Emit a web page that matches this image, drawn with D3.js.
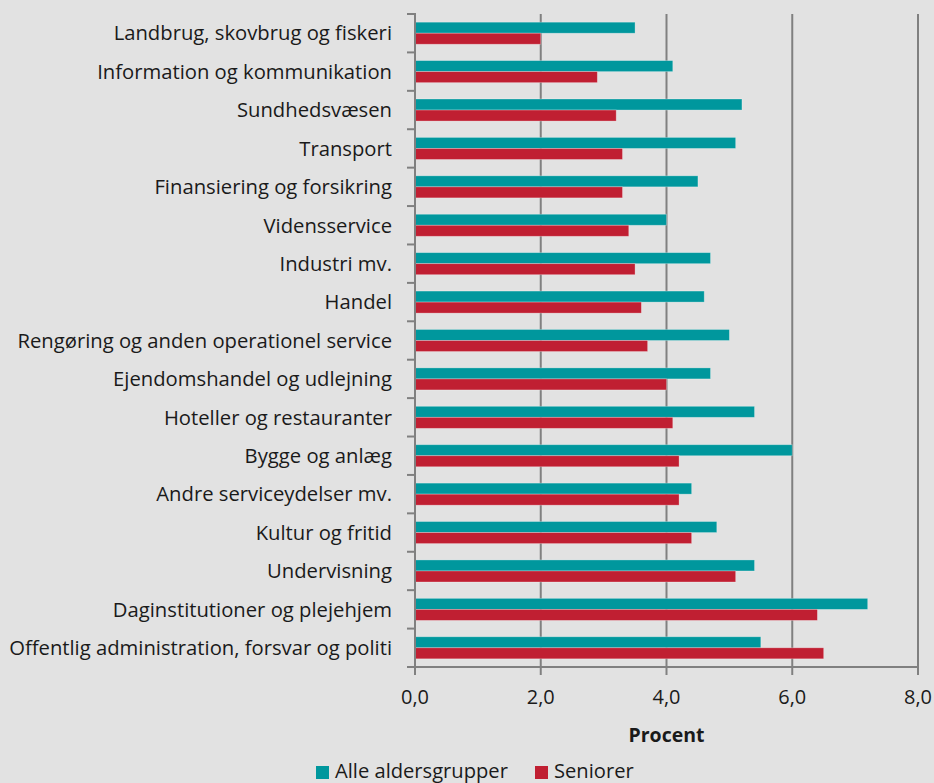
<!DOCTYPE html>
<html lang="da">
<head>
<meta charset="utf-8">
<title>Brancher – Alle aldersgrupper og seniorer</title>
<script src="https://cdn.jsdelivr.net/npm/d3@7"></script>
<style>
  html, body { margin: 0; padding: 0; background: #e2e2e2; }
  svg { display: block; }
  text { font-family: "Open Sans", "Noto Sans", sans-serif; fill: #1a1a1a; }
</style>
</head>
<body>
<svg id="chart" width="934" height="783"></svg>
<script>
// Brancher, fra top til bund
const categories = [
  "Landbrug, skovbrug og fiskeri",
  "Information og kommunikation",
  "Sundhedsvæsen",
  "Transport",
  "Finansiering og forsikring",
  "Vidensservice",
  "Industri mv.",
  "Handel",
  "Rengøring og anden operationel service",
  "Ejendomshandel og udlejning",
  "Hoteller og restauranter",
  "Bygge og anlæg",
  "Andre serviceydelser mv.",
  "Kultur og fritid",
  "Undervisning",
  "Daginstitutioner og plejehjem",
  "Offentlig administration, forsvar og politi"
];

// Procent, alle aldersgrupper
const alleAldersgrupper = [3.5, 4.1, 5.2, 5.1, 4.5, 4.0, 4.7, 4.6, 5.0, 4.7, 5.4, 6.0, 4.4, 4.8, 5.4, 7.2, 5.5];
// Procent, seniorer
const seniorer = [2.0, 2.9, 3.2, 3.3, 3.3, 3.4, 3.5, 3.6, 3.7, 4.0, 4.1, 4.2, 4.2, 4.4, 5.1, 6.4, 6.5];

const seriesNames = ["Alle aldersgrupper", "Seniorer"];
const seriesColors = ["#00979d", "#c01f32"];
const xTicks = [0, 2, 4, 6, 8];
const xTitle = "Procent";

const svg = d3.select("#chart");
const axisColor = "#808080";

// Sæt skriftstørrelse, så en tekst får den ønskede bredde
function fitSize(sel, base, width, node) {
  sel.style("font-size", base + "px");
  const w = (node || sel.node()).getComputedTextLength();
  const size = base * width / w;
  sel.style("font-size", size + "px");
  return size;
}

const x = d3.scaleLinear().domain([0, 8]).range([415, 918]);
const y = d3.scaleBand().domain(categories).range([14, 667]).paddingInner(0).paddingOuter(0);
const bw = y.bandwidth();
const groupH = bw * 0.574;
const sub = d3.scaleBand().domain(seriesNames)
  .range([(bw - groupH) / 2, (bw + groupH) / 2]).padding(0);

const rows = categories.map((c, i) => ({ cat: c, values: [alleAldersgrupper[i], seniorer[i]] }));

// Lodrette gitterlinjer
svg.append("g").selectAll("line")
  .data(xTicks.filter(d => d > 0))
  .join("line")
  .attr("x1", d => x(d)).attr("x2", d => x(d))
  .attr("y1", y.range()[0]).attr("y2", y.range()[1])
  .attr("stroke", axisColor).attr("stroke-width", 2);

// Søjler
const g = svg.append("g").selectAll("g")
  .data(rows)
  .join("g")
  .attr("transform", d => `translate(0,${y(d.cat)})`);

g.selectAll("rect")
  .data(d => d.values.map((v, k) => ({ v, k })))
  .join("rect")
  .attr("x", x(0))
  .attr("y", d => sub(seriesNames[d.k]))
  .attr("width", d => x(d.v) - x(0))
  .attr("height", sub.bandwidth())
  .attr("fill", d => seriesColors[d.k])
  .attr("stroke", "rgba(255,255,255,0.35)")
  .attr("stroke-width", 0.8);

// Kategoriakse
const yAxis = svg.append("g")
  .attr("transform", `translate(${x(0)},0)`);
yAxis.append("line")
  .attr("x1", 0).attr("x2", 0)
  .attr("y1", y.range()[0] - 1).attr("y2", y.range()[1])
  .attr("stroke", axisColor).attr("stroke-width", 2);
const boundaries = categories.map(c => y(c)).concat([y.range()[1]]);
yAxis.selectAll("line.tick")
  .data(boundaries)
  .join("line")
  .attr("class", "tick")
  .attr("x1", -8).attr("x2", 0)
  .attr("y1", d => d).attr("y2", d => d)
  .attr("stroke", axisColor).attr("stroke-width", 2);

const catLabels = yAxis.selectAll("text")
  .data(categories)
  .join("text")
  .attr("x", -23)
  .attr("y", d => y(d) + bw / 2)
  .attr("dy", "0.36em")
  .attr("text-anchor", "end")
  .text(d => d);
const longest = catLabels.nodes().reduce((a, b) => b.textContent.length > a.textContent.length ? b : a);
fitSize(catLabels, 16, 383, longest);

// Værdiakse
const xAxis = svg.append("g")
  .attr("transform", `translate(0,${y.range()[1]})`);
xAxis.append("line")
  .attr("x1", x(0) - 8).attr("x2", x(8))
  .attr("y1", 0).attr("y2", 0)
  .attr("stroke", axisColor).attr("stroke-width", 2);
xAxis.selectAll("line.tick")
  .data(xTicks)
  .join("line")
  .attr("class", "tick")
  .attr("x1", d => x(d)).attr("x2", d => x(d))
  .attr("y1", 0).attr("y2", 8)
  .attr("stroke", axisColor).attr("stroke-width", 2);
const fmt = d => d3.format(".1f")(d).replace(".", ",");
const tickLabels = xAxis.selectAll("text")
  .data(xTicks)
  .join("text")
  .attr("x", d => x(d))
  .attr("y", 30)
  .attr("dy", "0.36em")
  .attr("text-anchor", "middle")
  .text(fmt);
fitSize(tickLabels, 16, 28);

const title = svg.append("text")
  .attr("x", x(4))
  .attr("y", 735)
  .attr("dy", "0.36em")
  .attr("text-anchor", "middle")
  .style("font-weight", "700")
  .text(xTitle);
fitSize(title, 16, 76);

// Forklaring
const legend = svg.append("g").attr("transform", "translate(316,766)");
const legendX = [0, 219];
const legendTexts = [];
seriesNames.forEach((name, k) => {
  const lg = legend.append("g").attr("transform", `translate(${legendX[k]},0)`);
  lg.append("rect").attr("width", 13).attr("height", 13).attr("fill", seriesColors[k]);
  legendTexts.push(lg.append("text")
    .attr("x", 19).attr("y", 12)
    .text(name));
});
const legSize = fitSize(legendTexts[0], 16, 173);
legendTexts[1].style("font-size", legSize + "px");
</script>
</body>
</html>
